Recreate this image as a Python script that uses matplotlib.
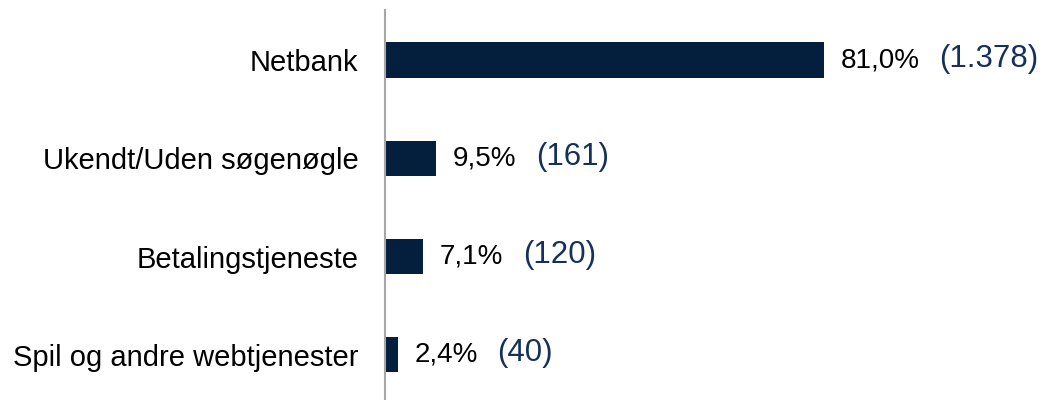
import matplotlib.pyplot as plt

categories = ['Netbank', 'Ukendt/Uden søgenøgle', 'Betalingstjeneste', 'Spil og andre webtjenester']
shares = [81.0, 9.5, 7.1, 2.4]
share_labels = ['81,0%', '9,5%', '7,1%', '2,4%']
counts = ['(1.378)', '(161)', '(120)', '(40)']

bar_color = '#041F3D'
count_color = '#15305A'

plt.rcParams['font.family'] = ['Liberation Sans', 'DejaVu Sans']

fig = plt.figure(figsize=(10.46, 4.0), dpi=100)
ax = fig.add_axes([0.368, 0.0, 0.632, 0.975])

y = list(range(len(categories)))
ax.barh(y, shares, height=0.36, color=bar_color)
ax.set_ylim(3.46, -0.51)
ax.set_xlim(0, 122)

ax.set_yticks(y)
ax.set_yticklabels(categories, fontsize=21)
ax.tick_params(axis='y', length=0, pad=19)
ax.set_xticks([])

for side in ['top', 'right', 'bottom']:
    ax.spines[side].set_visible(False)
ax.spines['left'].set_color('#A6A6A6')
ax.spines['left'].set_linewidth(1.5)

# percentage in black, count in navy right after it
for yi, val, lab, cnt in zip(y, shares, share_labels, counts):
    t = ax.annotate(lab, xy=(val, yi), xytext=(12, 0), textcoords='offset points',
                    va='center', ha='left', fontsize=20, color='black')
    ax.annotate(cnt, xy=(1, 0.5), xycoords=t, xytext=(14, 1), textcoords='offset points',
                va='center', ha='left', fontsize=22.5, color=count_color)

fig.savefig('out.png', dpi=100)
